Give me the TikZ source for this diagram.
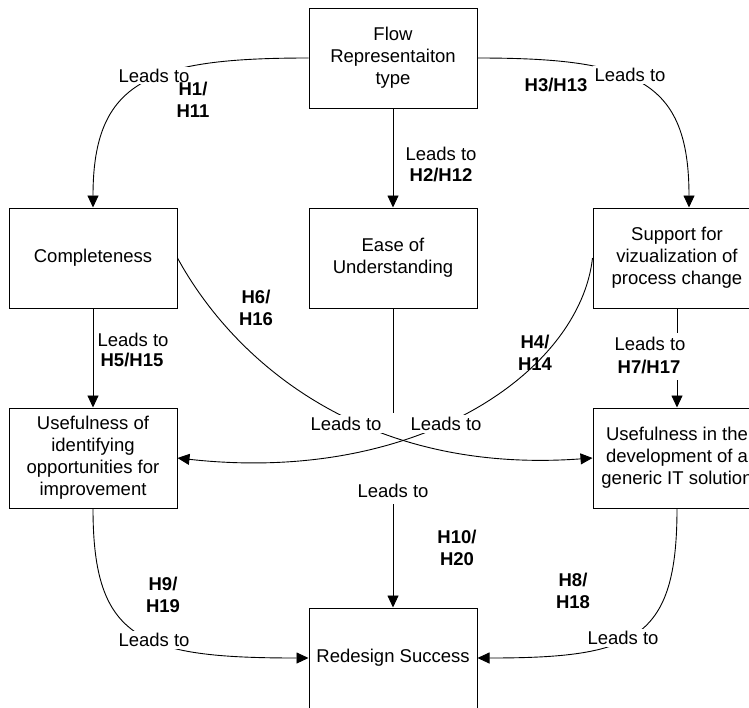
\documentclass[tikz,border=0pt]{standalone}
\usepackage{fontspec}
\setmainfont{Liberation Sans}
\usetikzlibrary{arrows.meta}
\begin{document}
\begin{tikzpicture}[x=1pt,y=-1pt,
  every node/.style={font=\fontsize{18.5}{22}\selectfont},
  box/.style={draw, line width=1pt, fill=white, minimum width=168pt,
    minimum height=100pt, inner sep=0pt, align=center},
  link/.style={line width=0.9pt},
  arr/.style={link, -{Triangle[length=12pt,width=11pt]}},
  lbl/.style={fill=white, inner sep=2pt},
  hyp/.style={font=\fontsize{18.5}{22}\selectfont\bfseries, inner sep=0pt, align=center}]

\useasboundingbox (0,0) rectangle (749,707);
\clip (0,0) rectangle (749,707);

% constructs
\node[box] (flow) at (393,58)  {Flow\\Representaiton\\type};
\node[box] (comp) at (93,258)  {Completeness};
\node[box] (ease) at (393,258) {Ease of\\Understanding};
\node[box] (supp) at (677,258) {Support for\\vizualization of\\process change};
\node[box] (uid)  at (93,458)  {Usefulness of\\identifying\\opportunities for\\improvement};
\node[box] (udev) at (677,458) {Usefulness in the\\development of a\\generic IT solution};
\node[box] (rs)   at (393,658) {Redesign Success};

% gaps in the straight links behind their labels
\coordinate (easegapA) at (393,413);
\coordinate (easegapB) at (393,504);
\coordinate (suppgapA) at (677,333);
\coordinate (suppgapB) at (677,380);

% relations
\draw[arr] (flow.west) .. controls (150,58) and (93,80) .. (comp.north);
\draw[arr] (flow.south) -- (ease.north);
\draw[arr] (flow.east) .. controls (636,58) and (689,80) .. ([xshift=12pt]supp.north);
\draw[arr] (comp.south) -- (uid.north);
\draw[arr] (comp.east) .. controls (232,358) and (360,475) .. (udev.west);
\draw[arr] (supp.west) .. controls (580,370) and (420,485) .. (uid.east);
\draw[arr] (supp.south) -- (suppgapA) (suppgapB) -- (udev.north);
\draw[arr] (ease.south) -- (easegapA) (easegapB) -- (rs.north);
\draw[arr] (uid.south) .. controls (93,640) and (140,658) .. (rs.west);
\draw[arr] (udev.south) .. controls (677,640) and (635,658) .. (rs.east);

% link labels
\node[lbl] (l1) at (154,75.5) {Leads to};
\node[hyp] (h1) at (193,99.5) {H1/\\H11};
\node[lbl] (l2) at (441,154) {Leads to};
\node[hyp] (h2) at (441,175) {H2/H12};
\node[lbl] (l3) at (630,75) {Leads to};
\node[hyp] (h3) at (556,85) {H3/H13};
\node[lbl] (l5) at (133,340) {Leads to};
\node[hyp] (h5) at (132,360) {H5/H15};
\node[lbl] (l6) at (346,424) {Leads to};
\node[hyp] (h6) at (256,307.5) {H6/\\H16};
\node[lbl] (l4) at (446,424) {Leads to};
\node[hyp] (h4) at (535,353) {H4/\\H14};
\node[lbl] (l7) at (650,343.5) {Leads to};
\node[hyp] (h7) at (649,366.5) {H7/H17};
\node[lbl] (l10) at (393,491) {Leads to};
\node[hyp] (h10) at (457,548) {H10/\\H20};
\node[lbl] (l9) at (154,640) {Leads to};
\node[hyp] (h9) at (163,595) {H9/\\H19};
\node[lbl] (l8) at (623,638) {Leads to};
\node[hyp] (h8) at (573,591) {H8/\\H18};
\end{tikzpicture}
\end{document}
